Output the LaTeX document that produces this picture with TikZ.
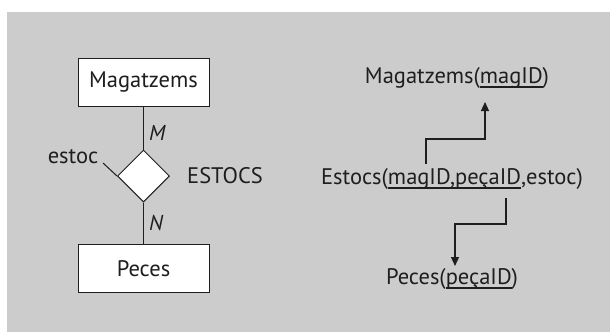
\documentclass[tikz,border=0pt]{standalone}
\usepackage{fontspec}
\setmainfont{PT Sans}
\usetikzlibrary{arrows.meta,shapes.geometric}
\definecolor{panel}{RGB}{204,204,204}
\definecolor{ink}{RGB}{30,30,30}
% primary-key attributes: text with a rule below it
\newcommand\pkey[1]{\setbox0\hbox{#1}\rlap{\rule[-4.5pt]{\wd0}{1.6pt}}\box0}
\begin{document}
\begin{tikzpicture}[x=1pt,y=-1pt, color=ink,
  every node/.style={font=\fontsize{22.5}{25}\selectfont, inner sep=0pt, text=ink},
  entity/.style={draw, fill=white, line width=1pt, minimum width=131pt, minimum height=48pt},
  relship/.style={draw, fill=white, line width=1pt, diamond, minimum width=52pt, minimum height=52pt},
  card/.style={font=\fontsize{21.5}{24}\selectfont\itshape},
  link/.style={line width=1pt},
  fk/.style={line width=1.1pt, -{Triangle[length=9pt,width=8pt]}}]
\useasboundingbox (0,0) rectangle (610,332);
\fill[panel] (7,12) rectangle (610,332);

% E-R diagram
\node[entity] (mag) at (143.5,82.5) {Magatzems};
\node[relship] (est) at (143.5,176) {};
\node[entity] (pec) at (143.5,268.5) {Peces};
\draw[link] (mag) -- (est.north) node[card, pos=0.6, right=5pt] (m) {M};
\draw[link] (est.south) -- (pec) node[card, pos=0.5, right=5pt] (n) {N};
\node (attr) at (73,157) {estoc};
\coordinate (attrend) at (103,163);
\draw[link] (attrend) -- (est.west);
\node[anchor=west] (rname) at (187,176) {ESTOCS};

% Relational schema
\node (rmag) at (457,78) {Magatzems(\pkey{magID})};
\node (rest) at (452,179) {Estocs(\pkey{magID,peçaID},estoc)};
\node (rpec) at (452,279) {Peces(\pkey{peçaID})};
\coordinate (a1) at (426,164);
\coordinate (a1t) at (485,102);
\draw[fk] (a1) |- (455.5,139) -| (a1t);
\coordinate (a2) at (506,198);
\coordinate (a2t) at (455,266);
\draw[fk] (a2) |- (480,224) -| (a2t);
\end{tikzpicture}
\end{document}
